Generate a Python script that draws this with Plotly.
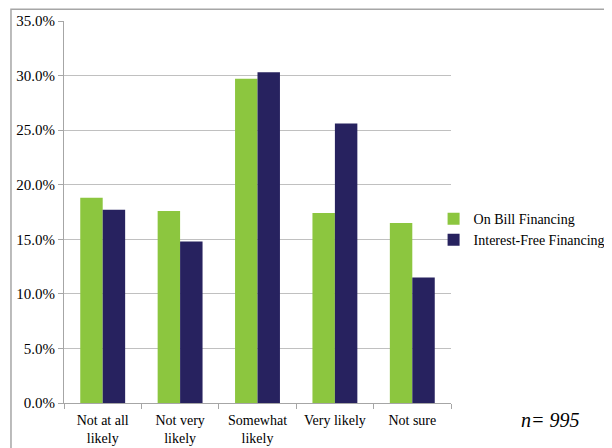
import plotly.graph_objects as go

categories = ["Not at all<br>likely", "Not very<br>likely", "Somewhat<br>likely", "Very likely", "Not sure"]
on_bill = [0.188, 0.176, 0.297, 0.174, 0.165]
interest_free = [0.177, 0.148, 0.303, 0.256, 0.115]
series_names = ["On Bill Financing", "Interest-Free Financing"]
y_ticks = [0, 0.05, 0.10, 0.15, 0.20, 0.25, 0.30, 0.35]

FONT = "Liberation Serif"

fig = go.Figure()
fig.add_trace(go.Bar(x=categories, y=on_bill, name=series_names[0],
                     marker=dict(color="#8cc63f", line=dict(width=0))))
fig.add_trace(go.Bar(x=categories, y=interest_free, name=series_names[1],
                     marker=dict(color="#27225f", line=dict(width=0))))

fig.update_layout(
    width=604, height=440,
    margin=dict(l=56, r=161, t=13, b=45, autoexpand=False),
    paper_bgcolor="white", plot_bgcolor="white",
    barmode="group", bargap=0.42, bargroupgap=0,
    font=dict(family=FONT, size=13, color="#000000"),
    showlegend=True,
    legend=dict(x=0.955, y=0.454, xanchor="left", yanchor="middle",
                font=dict(family=FONT, size=14, color="#000"),
                itemwidth=30, tracegroupgap=0, bgcolor="rgba(0,0,0,0)"),
    xaxis=dict(type="category", showgrid=False, showline=True, linecolor="#a6a6a6",
               linewidth=1, ticks="outside", tickson="boundaries", ticklen=5,
               ticklabelstandoff=4,
               tickcolor="#a6a6a6", tickfont=dict(family=FONT, size=14)),
    yaxis=dict(range=[0, 0.35], tickvals=y_ticks, tickformat=".1%",
               showgrid=True, gridcolor="#c0c0c0", gridwidth=1,
               showline=True, linecolor="#a6a6a6", linewidth=1,
               ticks="outside", ticklen=5, tickcolor="#a6a6a6",
               zeroline=False, tickfont=dict(family=FONT, size=15)),
    shapes=[dict(type="rect", xref="paper", yref="paper",
                 x0=-0.137, x1=2, y0=-1, y1=1.031,
                 line=dict(color="#a6a6a6", width=1.5), layer="below")],
    annotations=[dict(text="<i>n= 995</i>", xref="paper", yref="paper",
                      x=1.256, y=-0.045, xanchor="center", yanchor="middle",
                      showarrow=False, font=dict(family=FONT, size=20, color="#000"))],
)

fig.write_html("out.html")
